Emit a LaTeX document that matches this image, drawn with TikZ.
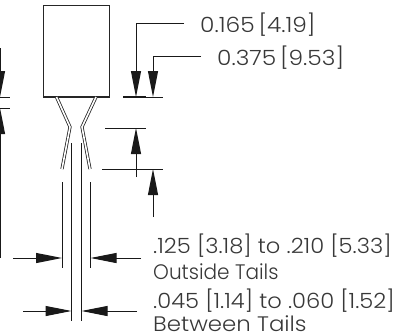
\documentclass[tikz,border=0pt]{standalone}
\usepackage{fontspec}
\setmainfont[UprightFont=* Light]{Poppins}
\usetikzlibrary{arrows.meta}
\newcommand{\sx}[2]{\scalebox{#1}[1]{#2}}
\tikzset{
  dim/.style={line width=1pt,black!90},
  arr/.style={dim,-{Triangle[length=26pt,width=10pt]}},
  part/.style={line width=1.1pt,black!85},
  lead/.style={line width=0.8pt,black!85,double=white,double distance=1.6pt,line join=miter},
  lab/.style={anchor=base west,inner sep=0pt,text=black!78,font=\fontsize{21}{21}\selectfont},
}
\begin{document}
\begin{tikzpicture}[x=1pt,y=-1pt]
\useasboundingbox (0,0) rectangle (412,335);
% body
\draw[part] (43.5,5.5) rectangle (109.5,97);
% leads
\draw[lead] (56.5,97) -- (70,127) -- (62,169);
\draw[lead] (96,97) -- (82,127) -- (90,169);
% inner/outer tail lines
\draw[dim] (71.5,143) -- (71.5,321);
\draw[dim] (81.5,143) -- (81.5,321);
\draw[dim] (62,182) -- (62,268);
\draw[dim] (90.5,182) -- (90.5,268);
% left clipped dimension
\draw[arr] (0,48) -- (0,97);
\draw[arr] (0,258) -- (0,108);
\draw[dim] (0,97) -- (10,97);
\draw[dim] (0,108) -- (10,108);
% top right leaders
\draw[arr] (184,23) -- (136,23) -- (136,97);
\draw[arr] (201,56) -- (153,56) -- (153,97);
\draw[line width=1.4pt,black!90] (123,97) -- (146,97);
\draw[dim] (146,97) -- (163,97);
% middle dimension
\draw[dim] (105,128) -- (146,128);
\draw[dim] (102,169) -- (163,169);
\draw[arr] (136,177) -- (136,128);
\draw[arr] (153,217) -- (153,169);
% horizontal dims
\draw[arr] (13,258) -- (62,258);
\draw[arr] (141,258) -- (90.5,258);
\draw[arr] (23,311) -- (71.5,311);
\draw[arr] (137,311) -- (81.5,311);
% labels
\node[lab] (a) at (200,32) {\sx{1.11}{0.165\,[4.19]}};
\node[lab] (b) at (217,65) {\sx{1.11}{0.375\,[9.53]}};
\node[lab] (c) at (153,253) {\sx{1.077}{.125 [3.18] to .210 [5.33]}};
\node[lab] (d) at (153,279) {\sx{0.955}{Outside Tails}};
\node[lab] (e) at (153,308) {\sx{1.077}{.045 [1.14] to .060 [1.52]}};
\node[lab] (f) at (153,331) {\sx{1.09}{Between Tails}};
\end{tikzpicture}
\end{document}
